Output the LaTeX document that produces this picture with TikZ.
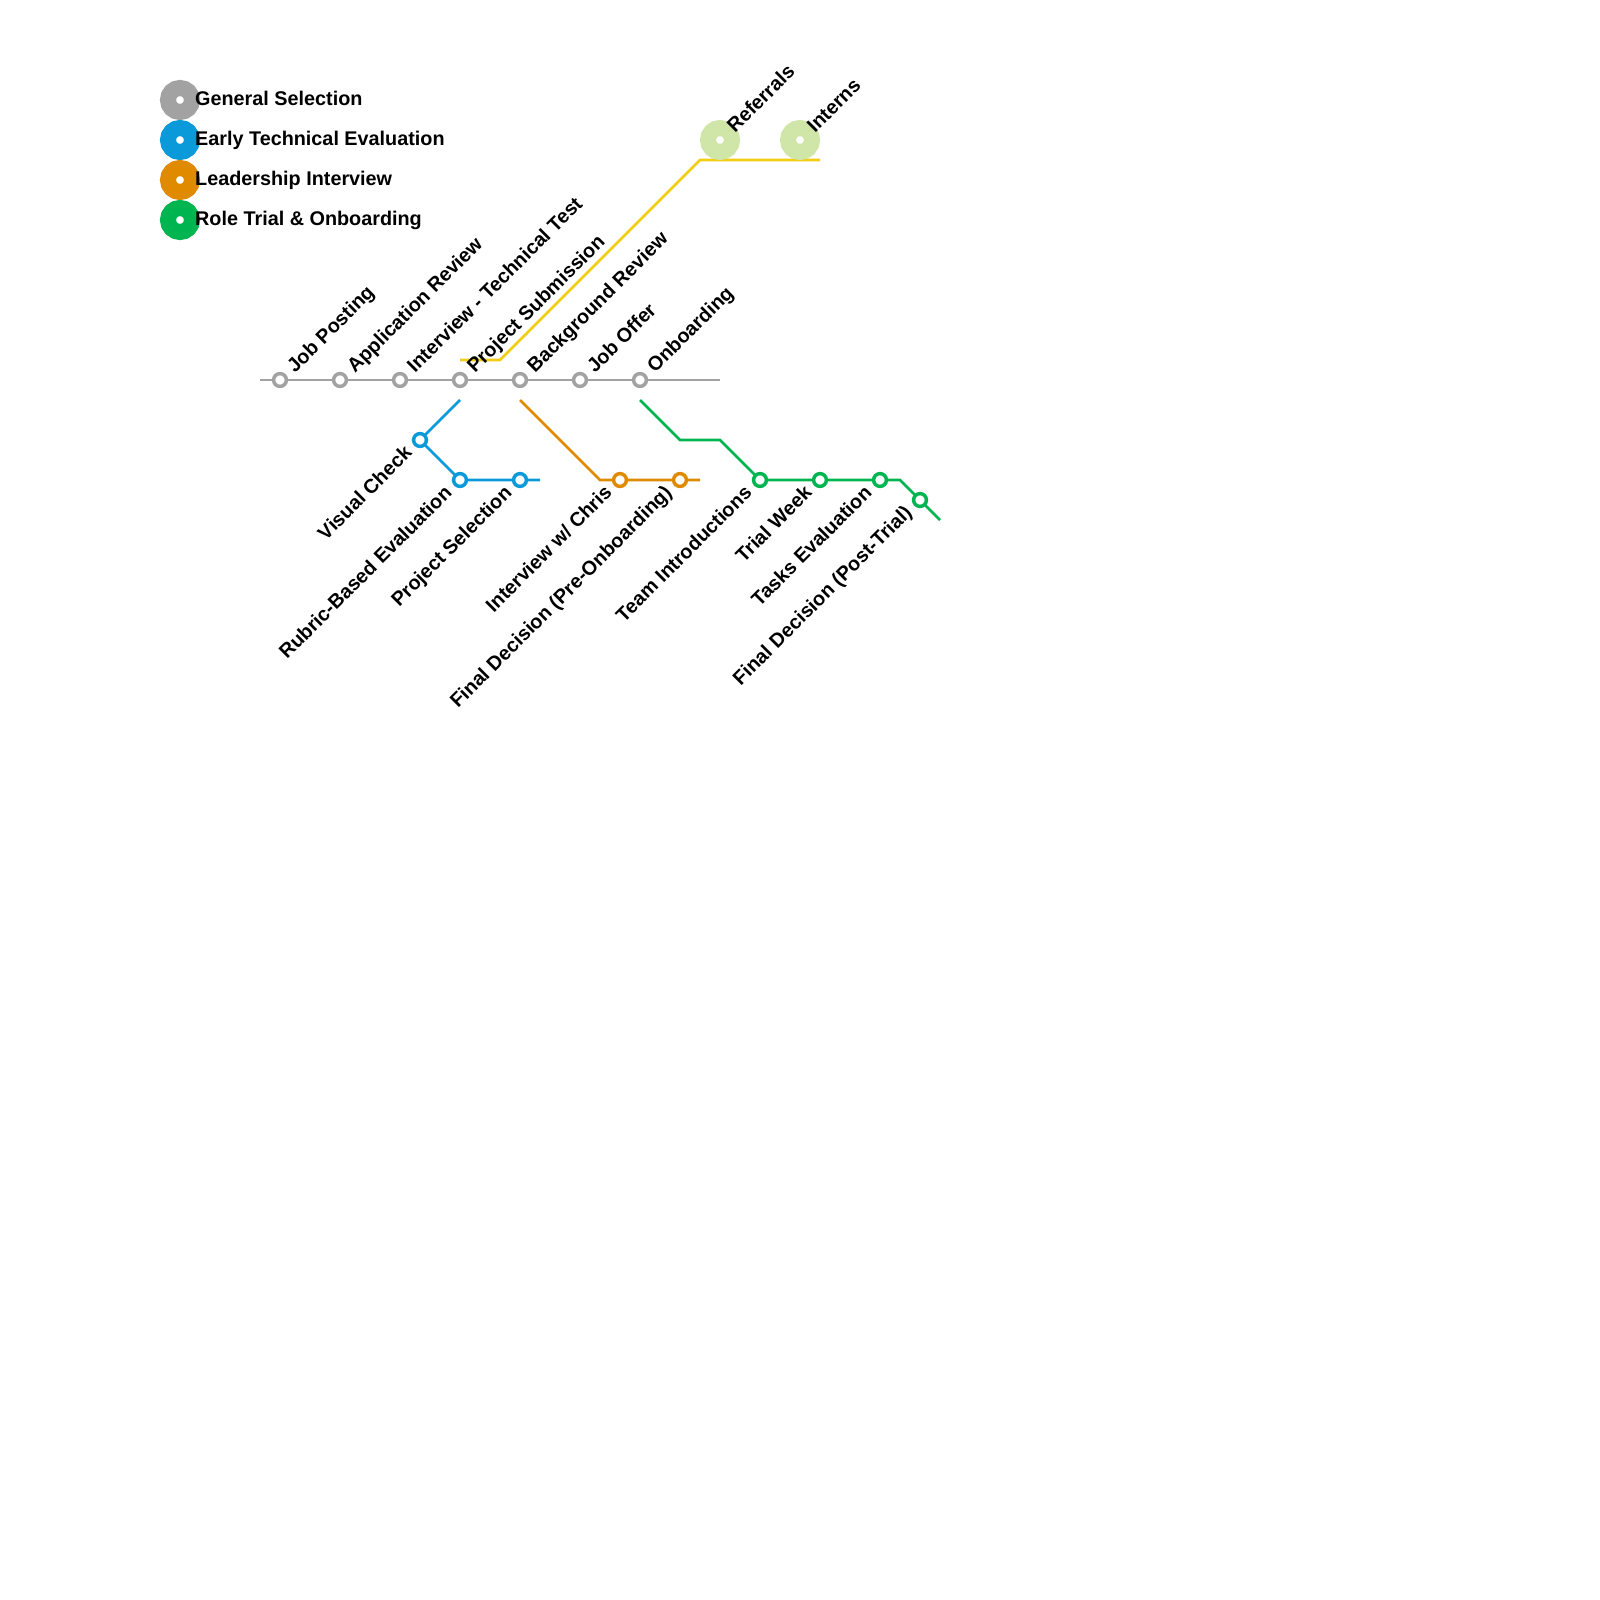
\documentclass[tikz,border=0pt]{standalone}
\usepackage{fontspec}
\setmainfont{Liberation Sans}
\usetikzlibrary{backgrounds}
\definecolor{cgray}{HTML}{A2A2A2}
\definecolor{cblue}{HTML}{0A9AD9}
\definecolor{corange}{HTML}{E08A00}
\definecolor{cgreen}{HTML}{00B44F}
\definecolor{cyellow}{HTML}{F2CD13}
\definecolor{clime}{HTML}{D0E6A8}
\tikzset{
  route/.style={line width=2.8pt,line join=miter,line cap=square},
  stn/.style={circle,draw=#1,line width=3.5pt,fill=white,minimum size=12.8pt,inner sep=0pt,outer sep=0pt},
  bigdot/.style={circle,draw=#1,line width=16pt,fill=white,minimum size=24pt,inner sep=0pt,outer sep=0pt},
  lab/.style={font=\bfseries\fontsize{19.8}{24}\selectfont,text=black,inner sep=0pt},
  up/.style={lab,anchor=base west,rotate=45},
  down/.style={lab,anchor=base east,rotate=45},
  leg/.style={lab,anchor=base west}
}
\begin{document}
\begin{tikzpicture}[x=1pt,y=-1pt]
\useasboundingbox (0,0) rectangle (1600,1600);
% legend
\node[bigdot=cgray] (l1) at (180,100) {};
\node[bigdot=cblue] (l2) at (180,140) {};
\node[bigdot=corange] (l3) at (180,180) {};
\node[bigdot=cgreen] (l4) at (180,220) {};
\node[leg] (lt1) at (195,105.2) {General Selection};
\node[leg] (lt2) at (195,145.2) {Early Technical Evaluation};
\node[leg] (lt3) at (195,185.6) {Leadership Interview};
\node[leg] (lt4) at (195,225.4) {Role Trial \& Onboarding};
% stations
\node[stn=cgray] (g1) at (280,380) {};
\node[stn=cgray] (g2) at (340,380) {};
\node[stn=cgray] (g3) at (400,380) {};
\node[stn=cgray] (g4) at (460,380) {};
\node[stn=cgray] (g5) at (520,380) {};
\node[stn=cgray] (g6) at (580,380) {};
\node[stn=cgray] (g7) at (640,380) {};
\node[stn=cblue] (b1) at (420,440) {};
\node[stn=cblue] (b2) at (460,480) {};
\node[stn=cblue] (b3) at (520,480) {};
\node[stn=corange] (o1) at (620,480) {};
\node[stn=corange] (o2) at (680,480) {};
\node[stn=cgreen] (t1) at (760,480) {};
\node[stn=cgreen] (t2) at (820,480) {};
\node[stn=cgreen] (t3) at (880,480) {};
\node[stn=cgreen] (t4) at (920,500) {};
\node[bigdot=clime] (y1) at (720,140) {};
\node[bigdot=clime] (y2) at (800,140) {};
% route ends and bends
\coordinate (gs) at (260,380); \coordinate (ge) at (720,380);
\coordinate (bs) at (460,400); \coordinate (be) at (540,480);
\coordinate (os) at (520,400); \coordinate (ob) at (600,480); \coordinate (oe) at (700,480);
\coordinate (ts) at (640,400); \coordinate (tb1) at (680,440); \coordinate (tb2) at (720,440);
\coordinate (tb3) at (900,480); \coordinate (te) at (940,520);
\coordinate (ys) at (460,360); \coordinate (yb1) at (500,360); \coordinate (yb2) at (700,160); \coordinate (ye) at (820,160);
\begin{scope}[on background layer]
\draw[route,cgray] (gs) -- (g1.center) -- (g2.center) -- (g3.center) -- (g4.center) -- (g5.center) -- (g6.center) -- (g7.center) -- (ge);
\draw[route,cblue] (bs) -- (b1.center) -- (b2.center) -- (b3.center) -- (be);
\draw[route,corange] (os) -- (ob) -- (o1.center) -- (o2.center) -- (oe);
\draw[route,cgreen] (ts) -- (tb1) -- (tb2) -- (t1.center) -- (t2.center) -- (t3.center) -- (tb3) -- (t4.center) -- (te);
\draw[route,cyellow] (ys) -- (yb1) -- (yb2) -- (ye);
\end{scope}
% labels
\node[up] (n1) at (295,374) {Job Posting};
\node[up] (n2) at (355,374) {Application Review};
\node[up] (n3) at (415,374) {Interview - Technical Test};
\node[up] (n4) at (475,374) {Project Submission};
\node[up] (n5) at (535,374) {Background Review};
\node[up] (n6) at (595,374) {Job Offer};
\node[up] (n7) at (655,374) {Onboarding};
\node[up] (n8) at (735,134) {Referrals};
\node[up] (n9) at (815,134) {Interns};
\node[down] (m1) at (413,454) {Visual Check};
\node[down] (m2) at (453,494) {Rubric-Based Evaluation};
\node[down] (m3) at (513,494) {Project Selection};
\node[down] (m4) at (613,494) {Interview w/ Chris};
\node[down] (m5) at (673,494) {Final Decision (Pre-Onboarding)};
\node[down] (m6) at (753,494) {Team Introductions};
\node[down] (m7) at (813,494) {Trial Week};
\node[down] (m8) at (873,494) {Tasks Evaluation};
\node[down] (m9) at (913,514) {Final Decision (Post-Trial)};
\end{tikzpicture}
\end{document}
